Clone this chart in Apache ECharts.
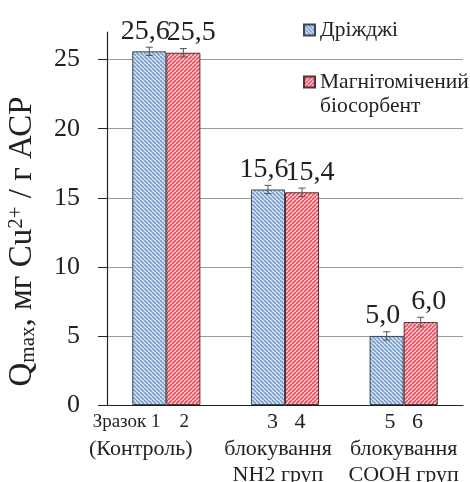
<!DOCTYPE html>
<html>
<head>
<meta charset="utf-8">
<script src="https://cdn.jsdelivr.net/npm/echarts@6/dist/echarts.min.js"></script>
<style>
  html, body { margin: 0; padding: 0; background: #fff; }
  #chart { width: 470px; height: 482px; }
</style>
</head>
<body>
<div id="chart"></div>
<script>
// Sorption capacity for Cu2+ ions: yeast vs. magnetically labelled biosorbent
var categories = [
  '{s|Зразок 1    2}\n(Контроль)',
  '   3   4\nблокування\nNH2 груп',
  '5   6\nблокування\nСООН груп'
];
var seriesNames = ['Дріжджі', 'Магнітомічений\nбіосорбент'];
var yeastValues = [25.6, 15.6, 5.0];
var biosorbentValues = [25.5, 15.4, 6.0];
var yeastErrors = [0.3, 0.3, 0.3];
var biosorbentErrors = [0.3, 0.3, 0.35];

var SERIF = 'Liberation Serif';
var BAR_WIDTH = 0.287;

// Diagonal hatch fill tile
function hatch(bg, fg, backslash) {
  var s = 4;
  var c = document.createElement('canvas');
  c.width = s; c.height = s;
  var ctx = c.getContext('2d');
  ctx.fillStyle = bg;
  ctx.fillRect(0, 0, s, s);
  ctx.strokeStyle = fg;
  ctx.lineWidth = 1.6;
  for (var k = -1; k <= 1; k++) {
    ctx.beginPath();
    if (backslash) {
      ctx.moveTo(k * s, 0); ctx.lineTo(k * s + s, s);
    } else {
      ctx.moveTo(k * s + s, 0); ctx.lineTo(k * s, s);
    }
    ctx.stroke();
  }
  return { image: c, repeat: 'repeat' };
}

var blueFill = hatch('#dde8f6', '#7c9fd2', true);
var redFill = hatch('#fbd6da', '#e5505f', false);

function fmt(v) { return v.toFixed(1).replace('.', ','); }

// Error bar drawn at the centre of a bar within its category band
function errorSeries(values, errors, side) {
  return {
    type: 'custom',
    z: 5,
    silent: true,
    data: values.map(function (v, i) { return [i, v - errors[i], v + errors[i]]; }),
    renderItem: function (params, api) {
      var band = api.size([1, 0])[0];
      var dx = side * band * BAR_WIDTH / 2;
      var lo = api.coord([api.value(0), api.value(1)]);
      var hi = api.coord([api.value(0), api.value(2)]);
      var x = lo[0] + dx;
      var cap = 3.5;
      var st = { stroke: '#555', lineWidth: 1 };
      return {
        type: 'group',
        children: [
          { type: 'line', shape: { x1: x, y1: lo[1], x2: x, y2: hi[1] }, style: st },
          { type: 'line', shape: { x1: x - cap, y1: lo[1], x2: x + cap, y2: lo[1] }, style: st },
          { type: 'line', shape: { x1: x - cap, y1: hi[1], x2: x + cap, y2: hi[1] }, style: st }
        ]
      };
    }
  };
}

var chart = echarts.init(document.getElementById('chart'), null, { renderer: 'canvas' });

chart.setOption({
  animation: false,
  backgroundColor: '#ffffff',
  textStyle: { fontFamily: SERIF },
  grid: { left: 107, right: 7, top: 32, bottom: 77, containLabel: false, outerBoundsMode: 'none' },
  legend: {
    orient: 'vertical',
    left: 303,
    top: 18,
    padding: 0,
    itemWidth: 11,
    itemHeight: 11,
    itemGap: 4,
    icon: 'rect',
    formatter: function (name) { return name.indexOf('\n') >= 0 ? '\n' + name : name; },
    textStyle: { fontFamily: SERIF, fontSize: 21.5, color: '#222', lineHeight: 24 },
    data: seriesNames
  },
  xAxis: {
    type: 'category',
    data: categories.map(function (c, i) {
      var pads = [[0, 51, 0, 0], [0, 14, 0, 0], [0, 0, 0, 0]];
      return { value: c, textStyle: { padding: pads[i] } };
    }),
    axisLine: { lineStyle: { color: '#222', width: 1.2 } },
    axisTick: { show: false },
    axisLabel: {
      interval: 0,
      margin: 4,
      fontFamily: SERIF,
      fontSize: 22,
      lineHeight: 26.5,
      color: '#222',
      rich: {
        s: { fontFamily: SERIF, fontSize: 19, lineHeight: 26.5, color: '#222' }
      }
    }
  },
  yAxis: {
    type: 'value',
    min: 0,
    max: 27,
    interval: 5,
    name: '{q|Q}{sub|max}{n|, мг Cu}{sup|2+}{n| / г АСР}',
    nameLocation: 'middle',
    nameGap: 68,
    nameTextStyle: {
      padding: [0, 46, 0, 0],
      rich: {
        q: { fontFamily: SERIF, fontSize: 33, color: '#222' },
        n: { fontFamily: SERIF, fontSize: 33, color: '#222' },
        sub: { fontFamily: SERIF, fontSize: 21, color: '#222', verticalAlign: 'bottom' },
        sup: { fontFamily: SERIF, fontSize: 21, color: '#222', verticalAlign: 'top' }
      }
    },
    axisLine: { show: true, lineStyle: { color: '#222', width: 1.2 } },
    axisTick: { show: true, length: 9, lineStyle: { color: '#222' } },
    axisLabel: {
      showMaxLabel: false,
      margin: 27,
      fontFamily: SERIF,
      fontSize: 26,
      color: '#222'
    },
    splitLine: { show: true, showMaxLine: false, lineStyle: { color: '#9a9a9a', width: 1 } }
  },
  series: [
    {
      name: seriesNames[0],
      type: 'bar',
      barWidth: (BAR_WIDTH * 100) + '%',
      barGap: '0%',
      data: yeastValues,
      itemStyle: { color: blueFill, borderColor: '#3c4655', borderWidth: 1 },
      label: {
        show: true, position: 'top', distance: 6, offset: [-4, 0],
        formatter: function (p) { return fmt(p.value); },
        fontFamily: SERIF, fontSize: 28, color: '#222'
      }
    },
    {
      name: seriesNames[1],
      type: 'bar',
      barWidth: (BAR_WIDTH * 100) + '%',
      barGap: '0%',
      data: biosorbentValues,
      itemStyle: { color: redFill, borderColor: '#55303a', borderWidth: 1 },
      label: {
        show: true, position: 'top', distance: 6, offset: [8, 0],
        formatter: function (p) { return fmt(p.value); },
        fontFamily: SERIF, fontSize: 28, color: '#222'
      }
    },
    errorSeries(yeastValues, yeastErrors, -1),
    errorSeries(biosorbentValues, biosorbentErrors, 1)
  ]
});
</script>
</body>
</html>
